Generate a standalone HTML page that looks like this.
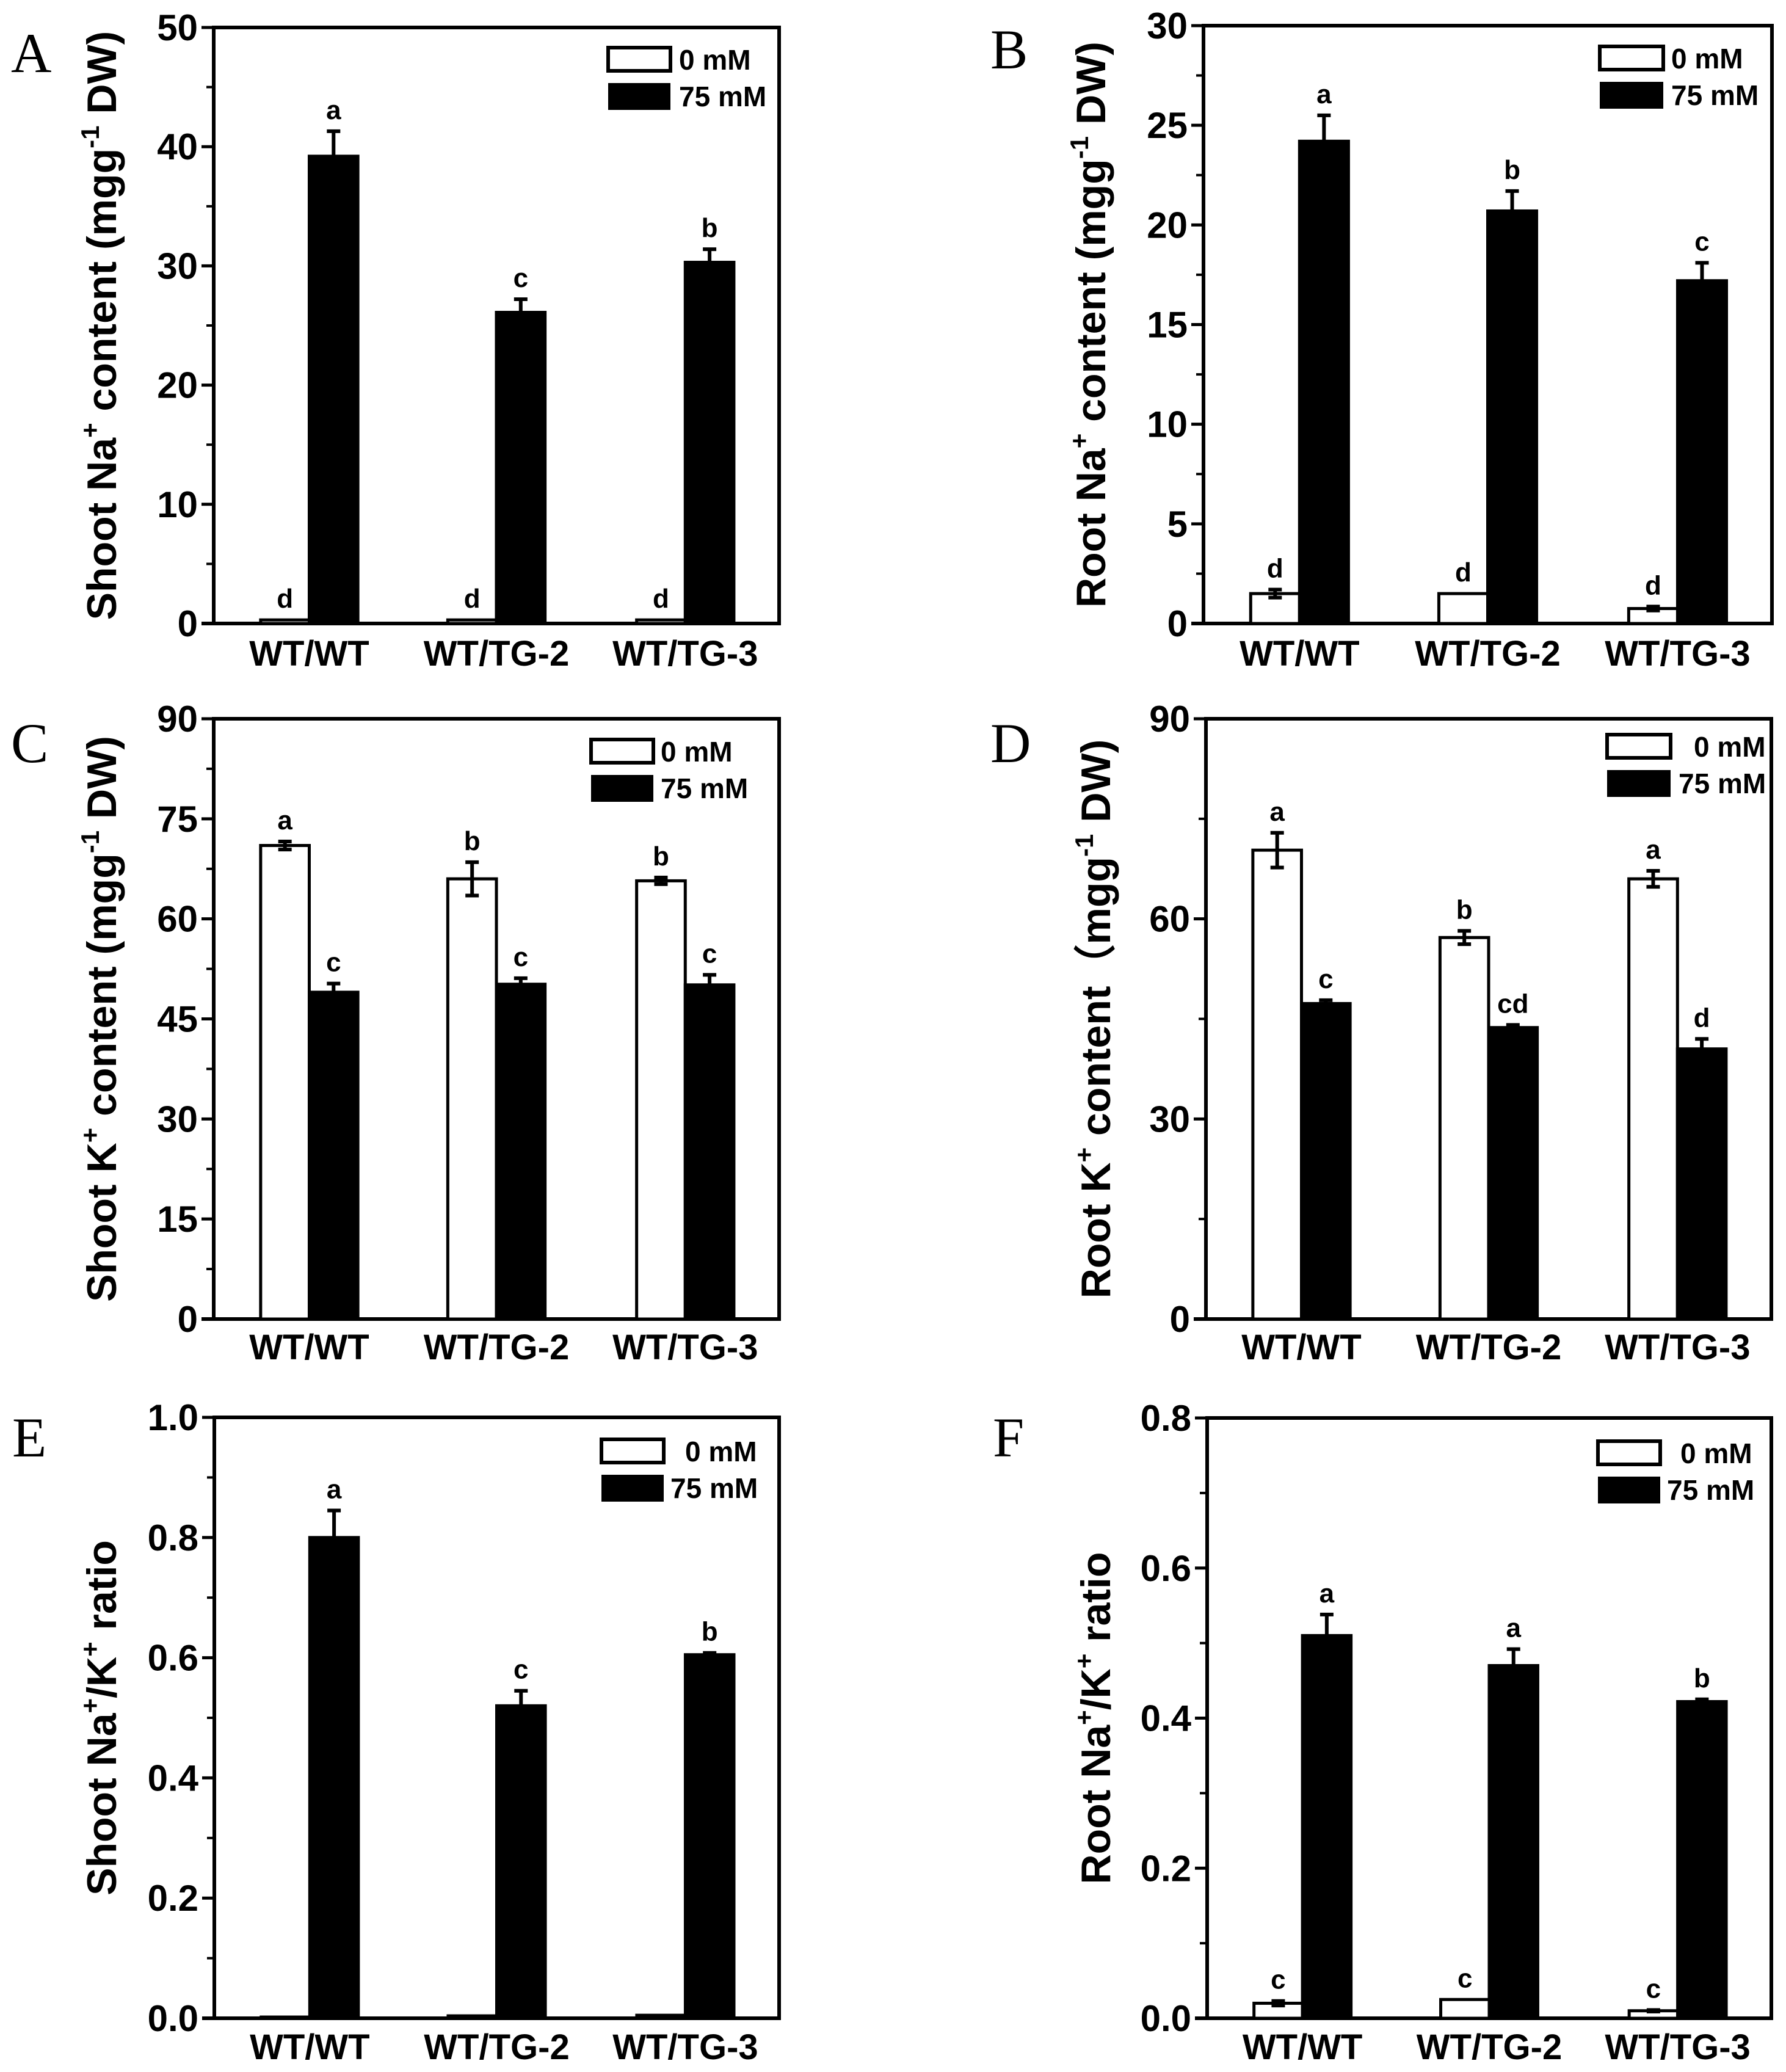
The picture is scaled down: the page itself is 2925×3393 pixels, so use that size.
<!DOCTYPE html>
<html><head><meta charset="utf-8"><style>
html,body{margin:0;padding:0;background:#fff}
svg{display:block}
text{font-family:"Liberation Sans",Arial,sans-serif;font-weight:bold;fill:#000}
.serif{font-family:"Liberation Serif",serif;font-weight:normal}
</style></head><body>
<svg id="fig" width="2925" height="3393" viewBox="0 0 2925 3393" xmlns="http://www.w3.org/2000/svg"></svg>
<script>
const categories = ["WT/WT","WT/TG-2","WT/TG-3"];
// Panel A
const aWhite=[0.3,0.3,0.3], aWhiteErr=[0,0,0], aBlack=[39.2,26.1,30.3], aBlackErr=[2.1,1.1,1.1];
const aWhiteSig=["d","d","d"], aBlackSig=["a","c","b"], aTicks=[0,10,20,30,40,50];
// Panel B
const bWhite=[1.5,1.5,0.75], bWhiteErr=[0.2,0,0.1], bBlack=[24.2,20.7,17.2], bBlackErr=[1.3,1.0,0.9];
const bWhiteSig=["d","d","d"], bBlackSig=["a","b","c"], bTicks=[0,5,10,15,20,25,30];
// Panel C
const cWhite=[71,66,65.7], cWhiteErr=[0.6,2.5,0.5], cBlack=[49,50.2,50.1], cBlackErr=[1.3,0.9,1.5];
const cWhiteSig=["a","b","b"], cBlackSig=["c","c","c"], cTicks=[0,15,30,45,60,75,90];
// Panel D
const dWhite=[70.3,57.2,66], dWhiteErr=[2.6,1.0,1.2], dBlack=[47.3,43.7,40.5], dBlackErr=[0.5,0.4,1.5];
const dWhiteSig=["a","b","a"], dBlackSig=["c","cd","d"], dTicks=[0,30,60,90];
// Panel E
const eWhite=[0.002,0.004,0.005], eWhiteErr=[0,0,0], eBlack=[0.80,0.52,0.605], eBlackErr=[0.045,0.025,0.003];
const eWhiteSig=["","",""], eBlackSig=["a","c","b"], eTicks=[0,0.2,0.4,0.6,0.8,1.0];
// Panel F
const fWhite=[0.02,0.025,0.01], fWhiteErr=[0.003,0,0.001], fBlack=[0.51,0.47,0.422], fBlackErr=[0.028,0.022,0.003];
const fWhiteSig=["c","c","c"], fBlackSig=["a","a","b"], fTicks=[0,0.2,0.4,0.6,0.8];

const NS="http://www.w3.org/2000/svg";
const svg=document.getElementById('fig');
function mk(tag,attrs,parent,txt){const e=document.createElementNS(NS,tag);for(const k in attrs)e.setAttribute(k,attrs[k]);if(txt!==undefined)e.textContent=txt;(parent||svg).appendChild(e);return e;}

function panel(o){
  const g=mk('g',{});
  
  
  const L=o.x0,R=o.x1,T=o.y0,B=o.y1,W=R-L;
  const ymax=o.ticks[o.ticks.length-1];
  const y=v=>B-(v/ymax)*(B-T);
  const wStart=[0.083,0.414,0.748], bw=0.086*W;
  const fr=mk('rect',{x:L,y:T,width:W,height:B-T,fill:'none',stroke:'#000','stroke-width':6},g);
  
  
  for(let i=0;i<o.ticks.length;i++){
    const v=o.ticks[i],yy=y(v);
    const t=mk('line',{x1:L-20,x2:L,y1:yy,y2:yy,stroke:'#000','stroke-width':5},g);
    
    
    const lb=mk('text',{x:L-26,y:yy+21,'text-anchor':'end','font-size':60},g,o.fmt?o.fmt(v):String(v));
    
    
    if(i<o.ticks.length-1){
      const ym=y((v+o.ticks[i+1])/2);
      const mt=mk('line',{x1:L-12,x2:L,y1:ym,y2:ym,stroke:'#000','stroke-width':4},g);
      
      
    }
  }
  mk('line',{x1:L-20,x2:L,y1:B,y2:B,stroke:'#000','stroke-width':6},g);
  function bar(xs,v,err,fill,sig,name,twoSided){
    const r=mk('rect',{x:xs,y:y(v),width:bw,height:B-y(v),fill:fill,stroke:'#000','stroke-width':5},g);
    
    
    const cx=xs+bw/2;
    if(err>0){
      const lo=twoSided?y(v-err):y(v);
      const e=mk('path',{d:`M${cx},${lo}V${y(v+err)}M${cx-11},${y(v+err)}H${cx+11}`+(twoSided?`M${cx-11},${lo}H${cx+11}`:''),stroke:'#000','stroke-width':6,fill:'none'},g);
      
      
    }
    if(sig){
      const s=mk('text',{x:cx,y:y(v+err)-20,'text-anchor':'middle','font-size':44},g,sig);
      
      
    }
  }
  for(let i=0;i<3;i++){
    const xs=L+wStart[i]*W;
    bar(xs,o.white[i],o.whiteErr[i],'#fff',o.whiteSig[i],'bar-0mM-'+(i+1),true);
    bar(xs+bw,o.black[i],o.blackErr[i],'#000',o.blackSig[i],'bar-75mM-'+(i+1),o.blackTwo);
    const xl=mk('text',{x:xs+bw,y:o.xlabY,'text-anchor':'middle','font-size':58},g,categories[i]);
    
    
  }
  const tt=mk('text',{x:0,y:0,'text-anchor':'middle','font-size':68,transform:`translate(${o.titleX},${(T+B)/2}) rotate(-90)`},g);
  
  
  for(const p of o.title){
    const sup=p[1]<0;
    mk('tspan',p[1]?{'font-size':sup?42:68,dy:p[1]}:{'font-size':68},tt,p[0]);
  }
  const lg=mk('g',{},g);
  
  
  const le=o.leg;
  const w1=mk('rect',{x:le.x,y:le.y,width:le.w,height:38,fill:'#fff',stroke:'#000','stroke-width':6},lg);
  
  
  const b1=mk('rect',{x:le.x,y:le.y+58,width:le.w,height:44,fill:'#000'},lg);
  
  
  const t1=mk('text',{x:le.tx0,y:le.y+36,'font-size':46},lg,'0 mM');
  
  
  const t2=mk('text',{x:le.tx1,y:le.y+96,'font-size':46},lg,'75 mM');
  
  
  const pl=mk('text',{x:o.letX,y:o.letY,'font-size':92},g,o.id);
  pl.setAttribute('class','serif');
  
  
}
const f1=v=>v.toFixed(1);
panel({id:'A',x0:350,x1:1276,y0:45,y1:1021,ticks:aTicks,white:aWhite,whiteErr:aWhiteErr,black:aBlack,blackErr:aBlackErr,whiteSig:aWhiteSig,blackSig:aBlackSig,xlabY:1090,titleX:190,
  title:[["Shoot Na"],["+",-28],[" content (mgg",28],["-1",-28],[" DW)",28]],leg:{x:996,y:78,w:102,tx0:1112,tx1:1112},letX:18,letY:118});
panel({id:'B',x0:1971,x1:2902,y0:42,y1:1021,ticks:bTicks,white:bWhite,whiteErr:bWhiteErr,black:bBlack,blackErr:bBlackErr,whiteSig:bWhiteSig,blackSig:bBlackSig,xlabY:1090,titleX:1810,
  title:[["Root Na"],["+",-28],[" content (mgg",28],["-1",-28],[" DW)",28]],leg:{x:2620,y:76,w:104,tx0:2737,tx1:2737},letX:1622,letY:112});
panel({id:'C',x0:350,x1:1276,y0:1177,y1:2160,ticks:cTicks,white:cWhite,whiteErr:cWhiteErr,black:cBlack,blackErr:cBlackErr,whiteSig:cWhiteSig,blackSig:cBlackSig,blackTwo:false,xlabY:2226,titleX:190,
  title:[["Shoot K"],["+",-28],[" content (mgg",28],["-1",-28],[" DW)",28]],leg:{x:968,y:1211,w:102,tx0:1082,tx1:1082},letX:18,letY:1248});
panel({id:'D',x0:1975,x1:2901,y0:1177,y1:2160,ticks:dTicks,white:dWhite,whiteErr:dWhiteErr,black:dBlack,blackErr:dBlackErr,whiteSig:dWhiteSig,blackSig:dBlackSig,xlabY:2226,titleX:1818,
  title:[["Root K"],["+",-28],[" content\uFF08mgg",28],["-1",-28],[" DW)",28]],leg:{x:2632,y:1203,w:104,tx0:2774,tx1:2749},letX:1622,letY:1248});
panel({id:'E',x0:351,x1:1276,y0:2321,y1:3305,ticks:eTicks,fmt:f1,white:eWhite,whiteErr:eWhiteErr,black:eBlack,blackErr:eBlackErr,whiteSig:eWhiteSig,blackSig:eBlackSig,xlabY:3372,titleX:190,
  title:[["Shoot Na"],["+",-28],["/K",28],["+",-28],[" ratio",28]],leg:{x:985,y:2357,w:102,tx0:1122,tx1:1098},letX:20,letY:2385});
panel({id:'F',x0:1977,x1:2901,y0:2322,y1:3305,ticks:fTicks,fmt:f1,white:fWhite,whiteErr:fWhiteErr,black:fBlack,blackErr:fBlackErr,whiteSig:fWhiteSig,blackSig:fBlackSig,xlabY:3372,titleX:1818,
  title:[["Root Na"],["+",-28],["/K",28],["+",-28],[" ratio",28]],leg:{x:2617,y:2360,w:102,tx0:2752,tx1:2730},letX:1626,letY:2385});
</script>
</body></html>
